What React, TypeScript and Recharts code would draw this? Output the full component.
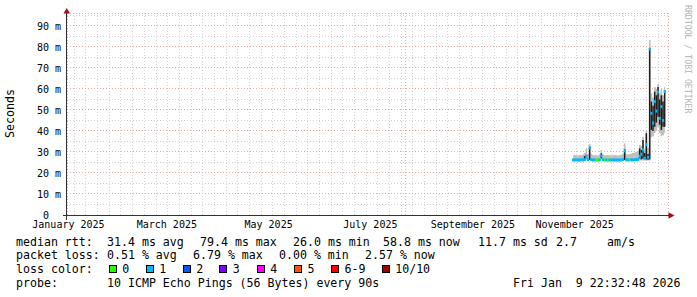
import React from 'react';
import { ComposedChart, Area, Bar, Line, Scatter, XAxis, YAxis, CartesianGrid } from 'recharts';

// day index = days since 1 Jan 2025
const days = [318, 319, 320, 321, 322, 323, 324, 325, 326, 327, 328, 329, 330, 331, 332, 333, 334, 335, 336, 337, 338, 339, 340, 341, 342, 343, 344, 345, 346, 347, 348, 349, 350, 351, 352, 353, 354, 355, 356, 357, 358, 359, 360, 361, 362, 363, 364, 365, 366, 367, 368, 369, 370, 371, 372, 373];
const median = [26.2, 26.2, 26.2, 26.2, 26.2, 26.3, 26.2, 26.4, 27.8, 26.3, 32.0, 26.4, 26.2, 26.2, 26.2, 26.2, 26.2, 28.2, 26.3, 26.2, 26.2, 26.2, 26.2, 26.2, 26.2, 26.2, 26.2, 26.2, 26.2, 26.2, 26.4, 30.5, 26.3, 26.2, 26.2, 26.3, 26.2, 26.3, 26.4, 26.5, 28.0, 29.0, 31.0, 27.0, 33.5, 27.5, 79.0, 48.4, 43.8, 54.0, 49.5, 58.5, 46.0, 51.6, 45.0, 58.8];
const smokeLo = [26.0, 26.0, 26.0, 26.0, 26.0, 26.0, 26.0, 26.0, 26.0, 26.0, 26.0, 26.0, 26.0, 26.0, 26.0, 26.0, 26.0, 26.0, 26.0, 26.0, 26.0, 26.0, 26.0, 26.0, 26.0, 26.0, 26.0, 26.0, 26.0, 26.0, 26.0, 26.0, 26.0, 26.0, 26.0, 26.0, 26.0, 26.0, 26.0, 26.0, 26.0, 26.0, 26.0, 26.0, 26.0, 26.0, 26.0, 37.0, 37.5, 39.0, 40.0, 42.0, 39.0, 37.5, 38.0, 39.0];
const smokeHi = [28.4, 28.6, 28.5, 28.3, 28.7, 28.5, 28.8, 29.5, 31.7, 29.0, 33.8, 29.2, 28.6, 28.4, 28.5, 28.3, 28.6, 31.0, 28.8, 28.5, 28.4, 28.6, 28.5, 28.3, 28.4, 28.6, 28.5, 28.3, 28.5, 28.7, 29.2, 34.1, 29.0, 28.8, 29.0, 29.2, 29.5, 29.8, 30.0, 30.5, 33.3, 33.0, 37.3, 31.5, 40.0, 32.0, 83.3, 58.0, 56.0, 61.0, 60.0, 62.5, 58.0, 60.0, 57.0, 61.0];
const darkLo: (number | null)[] = [null, null, null, null, null, null, null, 26.5, 27.0, null, 26.2, null, null, null, null, null, null, 27.0, null, null, null, null, null, null, null, null, null, null, null, null, null, 26.2, null, null, null, null, null, null, null, null, 27.0, 26.5, 26.8, 26.5, 26.5, 26.3, 26.5, 40.5, 40.0, 42.0, 44.0, 46.8, 43.0, 40.5, 42.0, 42.0];
const darkHi: (number | null)[] = [null, null, null, null, null, null, null, 28.0, 28.6, null, 32.5, null, null, null, null, null, null, 29.4, null, null, null, null, null, null, null, null, null, null, null, null, null, 31.3, null, null, null, null, null, null, null, null, 31.7, 31.0, 35.7, 29.5, 38.9, 29.0, 79.4, 54.0, 52.0, 58.7, 57.0, 61.0, 55.0, 57.0, 54.0, 59.5];
const loss = [1, 1, 1, 1, 1, 1, 1, 1, 1, 1, 1, 1, 1, 1, 0, 0, 1, 1, 1, 0, 1, 0, 1, 1, 1, 1, 1, 1, 1, 1, 1, 1, 1, 1, 0, 1, 1, 1, 1, 1, 1, 1, 1, 1, 1, 1, 1, 1, 1, 1, 1, 1, 1, 1, 1, 1];

const lossLabels = ['0', '1', '2', '3', '4', '5', '6-9', '10/10'];
const lossColors = ['#26ff00', '#00b8ff', '#0059ff', '#7e00ff', '#ff00ff', '#ff5500', '#ff0000', '#a10000'];

const monthTicks = [15.5, 74.5, 135.5, 196.5, 258, 319];
const monthLabels = ['January 2025', 'March 2025', 'May 2025', 'July 2025', 'September 2025', 'November 2025'];
const monthStarts = [31, 59, 90, 120, 151, 181, 212, 243, 273, 304, 334, 365];
const weekStarts = [19, 26, 33, 40, 47, 54, 61, 68, 75, 82, 89, 96, 103, 110, 117, 124, 131, 138, 145, 152, 159, 166, 173, 180, 187, 194, 201, 208, 215, 222, 229, 236, 243, 250, 257, 264, 271, 278, 285, 292, 299, 306, 313, 320, 327, 334, 341, 348, 355, 362, 369];
const yTicks = [0, 10, 20, 30, 40, 50, 60, 70, 80, 90];
const yMinor = [5, 15, 25, 35, 45, 55, 65, 75, 85, 95];

const xDomain = [14.63, 374.94];
const yDomain = [0, 96.19];

const rttRow = [
  ['median rtt:', 16], ['31.4 ms avg', 107], ['79.4 ms max', 200], ['26.0 ms min', 293],
  ['58.8 ms now', 383], ['11.7 ms sd', 478], ['2.7', 556], ['am/s', 607],
] as const;
const lossRow = [
  ['packet loss:', 16], ['0.51 % avg', 107], ['6.79 % max', 193], ['0.00 % min', 279], ['2.57 % now', 365],
] as const;
const probeRow = [
  ['probe:', 16], ['10 ICMP Echo Pings (56 Bytes) every 90s', 107], ['Fri Jan  9 22:32:48 2026', 513],
] as const;
const lossBoxX = [108.7, 145.7, 182.7, 219.3, 256.7, 294, 331, 381.7];

const FONT = "'DejaVu Sans Mono', monospace";

const data = days.map((d, i) => ({
  day: d,
  median: median[i],
  smoke: [smokeLo[i], smokeHi[i]],
  dark: darkLo[i] == null ? null : [darkLo[i], darkHi[i]],
  loss: loss[i],
}));

const MedianMark = (props: any) => {
  const { cx, cy, payload } = props;
  if (cx == null || cy == null) return null;
  return <rect x={cx - 1} y={cy - 1.5} width={2} height={3} fill={lossColors[payload.loss]} />;
};

const YTick = (props: any) => {
  const { x, y, payload } = props;
  const v = payload.value;
  return (
    <text x={v === 0 ? x - 12 : x} y={y} dy="0.355em" textAnchor="end" fontFamily={FONT} fontSize={10} fill="#000">
      {v === 0 ? '0' : `${v} m`}
    </text>
  );
};

const textStyle: React.CSSProperties = {
  position: 'absolute', fontFamily: FONT, fontSize: 11.6, lineHeight: '14px', whiteSpace: 'pre', color: '#000',
};

const layer: React.CSSProperties = { position: 'absolute', left: 0, top: 0 };

export default function App() {
  const rowTops = [234.5, 248, 262, 275.5];
  return (
    <div style={{ position: 'absolute', left: 0, top: 0, width: 697, height: 297, background: '#fff', overflow: 'hidden' }}>
      {/* background layer: minor grid */}
      <div style={layer}>
        <ComposedChart width={697} height={297} data={data} margin={{ top: 13, right: 29, bottom: 82, left: 67 }}>
          <XAxis xAxisId="minor" dataKey="day" type="number" domain={xDomain} ticks={weekStarts} interval={0} hide allowDataOverflow />
          <YAxis yAxisId="minor" type="number" domain={yDomain} ticks={yMinor} interval={0} hide allowDataOverflow />
          <CartesianGrid xAxisId="minor" yAxisId="minor" stroke="#d2d2d2" strokeDasharray="1 2" shapeRendering="crispEdges" />
          <Line xAxisId="minor" yAxisId="minor" dataKey="median" stroke="none" dot={false} activeDot={false} isAnimationActive={false} />
        </ComposedChart>
      </div>

      {/* main layer: major grid, axes, data */}
      <div style={layer}>
        <ComposedChart width={697} height={297} data={data} margin={{ top: 13, right: 29, bottom: 62, left: 0 }}>
          <XAxis
            xAxisId="main" dataKey="day" type="number" domain={xDomain} ticks={monthTicks} interval={0}
            allowDataOverflow height={20} axisLine={false} tickLine={false} tickSize={0} tickMargin={6}
            tickFormatter={(v: number) => monthLabels[monthTicks.indexOf(v)]}
            tick={{ fontFamily: FONT, fontSize: 10, fill: '#000' }}
          />
          <XAxis xAxisId="major" orientation="top" type="number" domain={xDomain} ticks={monthStarts} interval={0} hide allowDataOverflow />
          <XAxis xAxisId="dark" orientation="top" dataKey="day" type="number" domain={xDomain} ticks={days} hide allowDataOverflow />
          <YAxis
            yAxisId="main" type="number" domain={yDomain} ticks={yTicks} interval={0} allowDataOverflow
            width={67} axisLine={false} tickLine={false} tickSize={3} tickMargin={3} tick={<YTick />}
          />
          <CartesianGrid xAxisId="major" yAxisId="main" stroke="#f0a4a4" strokeDasharray="1 2" shapeRendering="crispEdges" />
          <Area
            xAxisId="main" yAxisId="main" dataKey="smoke" type="step" fill="#c0c0c0" fillOpacity={1}
            stroke="none" dot={false} activeDot={false} isAnimationActive={false}
          />
          <Bar xAxisId="dark" yAxisId="main" dataKey="dark" fill="#1e1e1e" barSize={2} isAnimationActive={false} />
          <Scatter xAxisId="main" yAxisId="main" dataKey="median" shape={MedianMark} isAnimationActive={false} />
        </ComposedChart>
      </div>

      <svg width={697} height={297} style={{ ...layer, pointerEvents: 'none' }}>
        <line x1={63} y1={215.5} x2={670} y2={215.5} stroke="#333" strokeWidth={1} />
        <line x1={66.5} y1={220} x2={66.5} y2={11} stroke="#333" strokeWidth={1} />
        <polygon points="63.5,13.5 70,13.5 66.75,8" fill="#a01010" />
        <polygon points="668.5,212.25 668.5,218.75 674.5,215.5" fill="#a01010" />
      </svg>

      <div style={{ ...textStyle, left: 3, top: 89, writingMode: 'vertical-rl', transform: 'rotate(180deg)' }}>Seconds</div>
      <div style={{ ...textStyle, left: 683, top: 5, writingMode: 'vertical-rl', fontSize: 8.2, lineHeight: '10px', color: '#b4b4b4' }}>RRDTOOL / TOBI OETIKER</div>

      {rttRow.map(([t, x]) => <div key={t} style={{ ...textStyle, left: x, top: rowTops[0] }}>{t}</div>)}
      {lossRow.map(([t, x]) => <div key={t} style={{ ...textStyle, left: x, top: rowTops[1] }}>{t}</div>)}
      <div style={{ ...textStyle, left: 16, top: rowTops[2] }}>loss color:</div>
      {lossLabels.map((l, i) => (
        <React.Fragment key={l}>
          <div style={{ position: 'absolute', left: lossBoxX[i], top: 265, width: 8, height: 8, boxSizing: 'border-box', border: '1px solid #000', background: lossColors[i] }} />
          <div style={{ ...textStyle, left: lossBoxX[i] + 13.5, top: rowTops[2] }}>{l}</div>
        </React.Fragment>
      ))}
      {probeRow.map(([t, x]) => <div key={t} style={{ ...textStyle, left: x, top: rowTops[3] }}>{t}</div>)}
    </div>
  );
}
